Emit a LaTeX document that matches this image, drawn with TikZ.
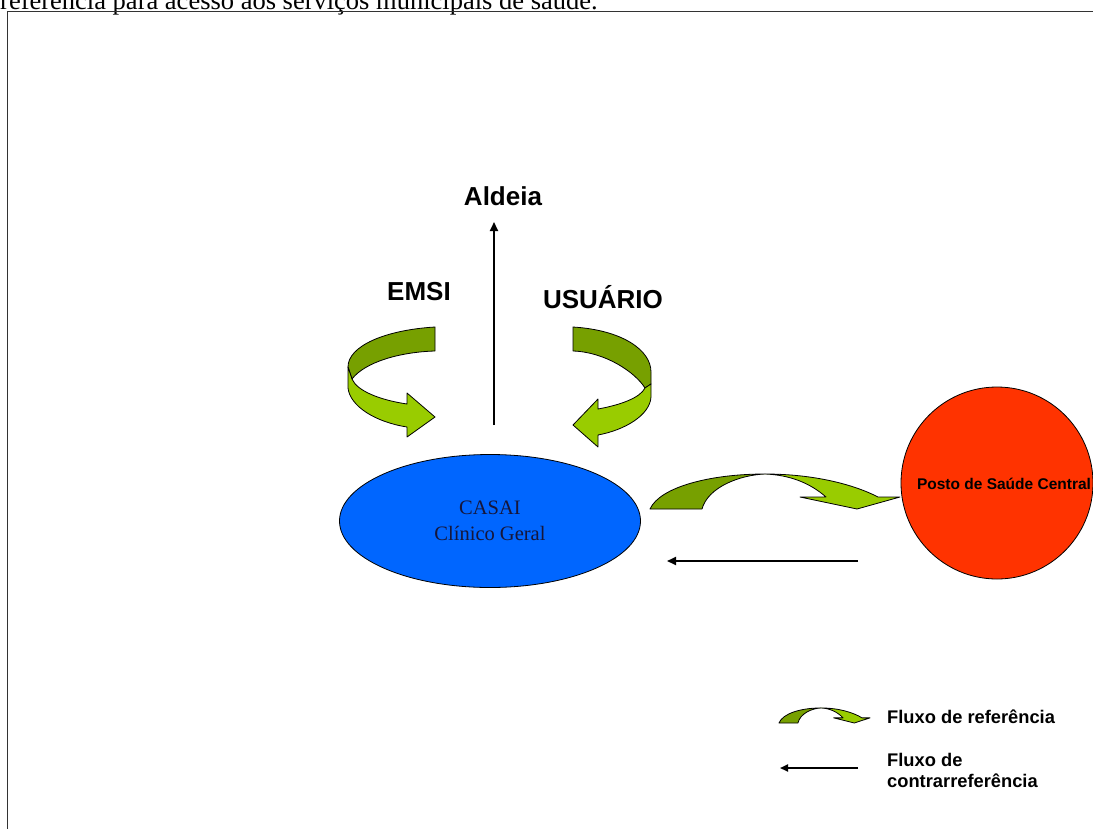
\documentclass[tikz,border=0pt]{standalone}
\usepackage{fontspec}
\setmainfont{Liberation Serif}
\setsansfont{Liberation Sans}
\usetikzlibrary{shapes.geometric,arrows.meta}
\definecolor{ribbondark}{HTML}{77A000}
\definecolor{ribbonlight}{HTML}{99CC00}
\definecolor{casaiblue}{HTML}{0066FF}
\definecolor{postored}{HTML}{FF3300}
\definecolor{casaitext}{HTML}{16163A}
\tikzset{
  ribbon/.style={draw=black, line width=0.8pt, line join=round},
  darkband/.style={ribbon, fill=ribbondark},
  lightband/.style={ribbon, fill=ribbonlight},
  flow/.style={draw=black, line width=1.8pt, -{Triangle[length=9pt,width=8pt]}},
  smallflow/.style={draw=black, line width=1.8pt, -{Triangle[length=8pt,width=7pt]}},
  title/.style={font=\sffamily\bfseries\fontsize{26}{30}\selectfont, inner sep=0, anchor=base},
  legendtext/.style={font=\sffamily\bfseries\fontsize{18.3}{21}\selectfont, anchor=west, align=left, inner sep=0},
}
% curved "reference" ribbon arrow, local origin at the outer foot of its base
\newcommand\refribbon{%
  \filldraw[darkband] (0,0) .. controls (10,-22) and (60,-35) .. (115,-35)
      .. controls (90,-34) and (58,-22) .. (52,0) -- cycle;
  \filldraw[lightband] (115,-35) .. controls (165,-35) and (205,-24) .. (228,-12)
      -- (250,-12) -- (207,0) -- (150,-12) -- (176,-12)
      .. controls (160,-26) and (140,-34) .. (115,-35) -- cycle;
}
\begin{document}
\begin{tikzpicture}[x=1pt,y=-1pt]
\useasboundingbox (0,0) rectangle (1093,828);

% caption line of the page, partly cut at the top
\node[anchor=base west, inner sep=0, font=\fontsize{26.5}{30}\selectfont] (caption) at (0,9)
  {referência para acesso aos serviços municipais de saúde.};

% frame
\draw[line width=1pt, draw=black!80] (7,11) rectangle (1110,850);

% labels
\node[title] (aldeia) at (503,205) {Aldeia};
\node[title] (emsi) at (419,300) {EMSI};
\node[title] (usuario) at (603,308) {USUÁRIO};

% CASAI
\node[ellipse, fill=casaiblue, draw=black, line width=0.8pt, minimum width=301pt,
      minimum height=133pt, inner sep=0, text=casaitext, align=center,
      font=\fontsize{20.5}{26}\selectfont] (casai) at (490,521) {CASAI\\Clínico Geral};

% Posto de Saude Central
\node[circle, fill=postored, draw=black, line width=0.8pt, minimum size=192pt, inner sep=0]
      (posto) at (997,483) {};
\node[inner sep=0, font=\sffamily\bfseries\fontsize{15.5}{18}\selectfont] (postolabel)
      at (1004,484) {Posto de Saúde Central};

% arrow towards the village
\coordinate (upfrom) at (494,425);
\coordinate (upto) at (494,222);
\draw[flow] (upfrom) -- (upto);

% EMSI ribbon arrow
\filldraw[darkband] (435,327) .. controls (385,330) and (348,346) .. (348,367)
   -- (352,379) .. controls (365,362) and (400,352) .. (435,351) -- cycle;
\filldraw[lightband] (348,367) -- (348,388) .. controls (350,406) and (375,422) .. (407,427)
   -- (407,437) -- (435,417) -- (407,393) -- (407,404)
   .. controls (380,400) and (357,391) .. (352,379) -- cycle;

% USUARIO ribbon arrow
\filldraw[darkband] (573,327) .. controls (622,330) and (651,350) .. (651,372)
   -- (651,384) -- (645,388) .. controls (635,372) and (605,352) .. (573,351) -- cycle;
\filldraw[lightband] (651,384) -- (651,397) .. controls (650,415) and (625,430) .. (598,435)
   -- (598,447) -- (573,425) -- (598,399) -- (598,409)
   .. controls (620,405) and (640,398) .. (645,388) -- cycle;

% reference flow CASAI -> Posto
\begin{scope}[shift={(650,509)}]
  \refribbon
\end{scope}

% counter-reference flow Posto -> CASAI
\coordinate (backfrom) at (858,561);
\coordinate (backto) at (667,561);
\draw[flow] (backfrom) -- (backto);

% legend
\begin{scope}[shift={(779,723)}, xscale=0.364, yscale=0.43]
  \refribbon
\end{scope}
\node[legendtext] (legref) at (887,717) {Fluxo de referência};
\coordinate (legfrom) at (858,768);
\coordinate (legto) at (780,768);
\draw[smallflow] (legfrom) -- (legto);
\node[legendtext] (legcontra) at (887,770) {Fluxo de\\contrarreferência};
\end{tikzpicture}
\end{document}
